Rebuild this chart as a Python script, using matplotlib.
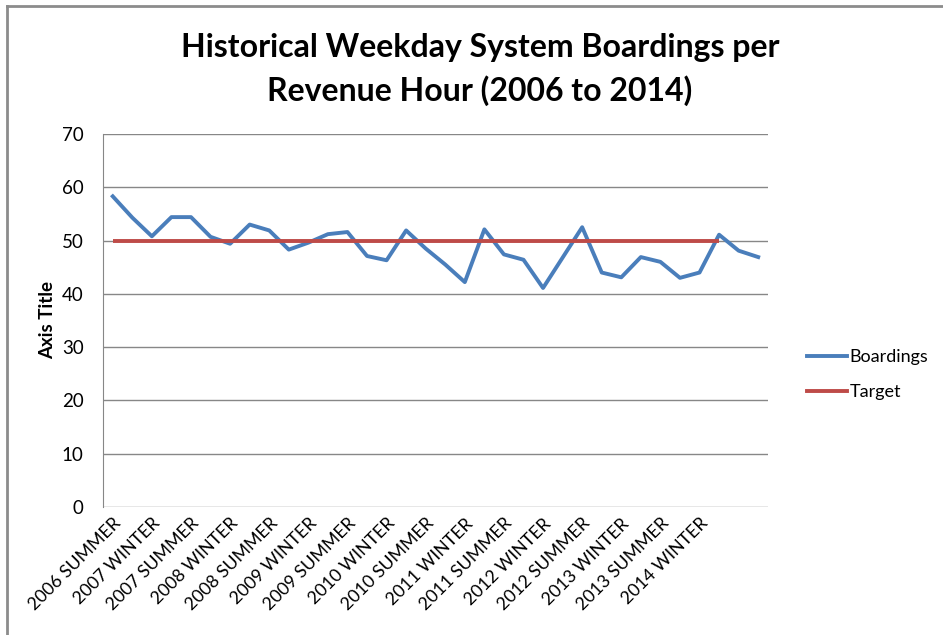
import numpy as np
import matplotlib.pyplot as plt
from matplotlib.lines import Line2D

# weekday boardings per revenue hour, one value per period
boardings = [58.3, 54.3, 50.8, 54.4, 54.4, 50.7, 49.4, 53.0, 51.9, 48.3,
             49.6, 51.2, 51.6, 47.1, 46.3, 51.9, 48.5, 45.5, 42.2, 52.1,
             47.4, 46.4, 41.1, 46.8, 52.5, 44.0, 43.1, 46.9, 46.0, 43.0,
             44.0, 51.1, 48.1, 46.9]
target = [50] * 32

tick_labels = ["2006 SUMMER", "2007 WINTER", "2007 SUMMER", "2008 WINTER",
               "2008 SUMMER", "2009 WINTER", "2009 SUMMER", "2010 WINTER",
               "2010 SUMMER", "2011 WINTER", "2011 SUMMER", "2012 WINTER",
               "2012 SUMMER", "2013 WINTER", "2013 SUMMER", "2014 WINTER"]

plt.rcParams["font.family"] = ["Lato", "DejaVu Sans"]

BLUE = "#4a7ebb"
RED = "#be4b48"
GRID = "#878787"


def main():
    fig = plt.figure(figsize=(9.43, 6.35), dpi=100)
    ax = fig.add_axes([0.1092, 0.2016, 0.7052, 0.5874])

    x = np.arange(len(boardings))
    ax.plot(x, boardings, color=BLUE, lw=2.8, solid_joinstyle="round")
    ax.plot(np.arange(len(target)), target, color=RED, lw=2.8, solid_capstyle="butt")

    n = len(boardings)
    ax.set_xlim(-0.5, n - 0.5)
    ax.set_ylim(0, 70)
    ax.set_yticks(range(0, 71, 10))
    ax.yaxis.grid(True, color=GRID, lw=1)
    ax.set_axisbelow(True)
    ax.set_xticks(np.arange(0, 2 * len(tick_labels), 2))
    ax.set_xticklabels(tick_labels, rotation=45, ha="right", rotation_mode="anchor")
    ax.tick_params(axis="both", length=0, labelsize=13.5)
    ax.tick_params(axis="x", pad=6, labelsize=12.8)
    ax.tick_params(axis="y", pad=14)

    for side in ["top", "right", "bottom"]:
        ax.spines[side].set_visible(False)
    ax.spines["left"].set_color(GRID)

    ax.set_ylabel("Axis Title", fontsize=13.5, fontweight="bold", labelpad=4)

    fig.text(0.509, 0.891, "Historical Weekday System Boardings per\nRevenue Hour (2006 to 2014)",
             ha="center", va="center", fontsize=23, fontweight="bold", linespacing=1.5)

    handles = [Line2D([], [], color=BLUE, lw=2.8), Line2D([], [], color=RED, lw=2.8)]
    fig.legend(handles, ["Boardings", "Target"], loc="center left",
               bbox_to_anchor=(0.839, 0.41), frameon=False, fontsize=13,
               handlelength=2.2, handletextpad=0.15, labelspacing=1.05)

    # chart frame (only top and left edges are visible)
    fig.add_artist(Line2D([0.0075, 0.0075], [0, 0.991], color="#8c8c8c", lw=2,
                          transform=fig.transFigure))
    fig.add_artist(Line2D([0.0075, 1], [0.991, 0.991], color="#8c8c8c", lw=2,
                          transform=fig.transFigure))

    fig.savefig("out.png", dpi=100)


if __name__ == "__main__":
    main()
